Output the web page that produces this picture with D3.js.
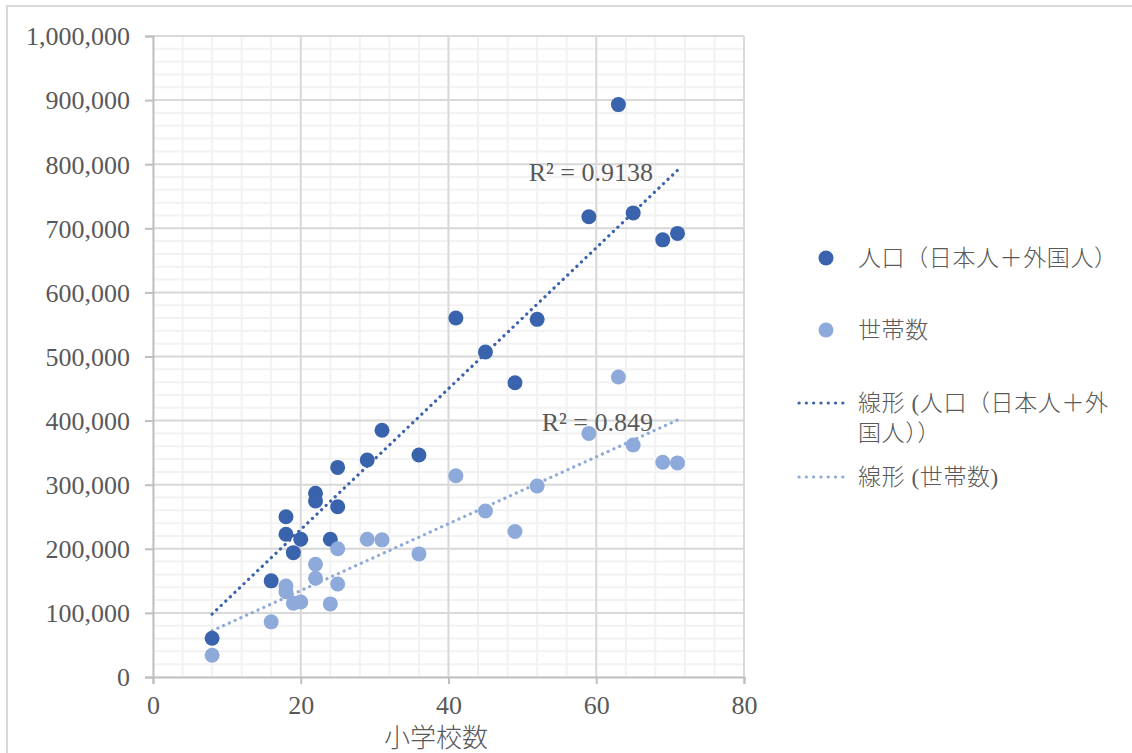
<!DOCTYPE html>
<html>
<head>
<meta charset="utf-8">
<script src="https://cdn.jsdelivr.net/npm/d3@7"></script>
<style>
  body { margin: 0; background: #fff; }
  text { fill: #595959; }
</style>
</head>
<body>
<div id="chart"></div>
<script>
// 小学校数 (x) per ward, and population / households (y)
const schools = [8, 16, 18, 18, 19, 20, 22, 22, 24, 25, 25, 29, 31, 36, 41, 45, 49, 52, 59, 63, 65, 69, 71]
const population = [60400, 150000, 250000, 222600, 194000, 215000, 286600, 274600, 214800, 327000, 265700,
    338500, 385000, 346300, 560000, 507000, 459000, 558000, 718000, 893000, 724000, 682000, 692000]
const households = [34000, 86000, 142000, 133000, 115000, 117000, 176000, 154000, 114000, 200000, 145000,
    215000, 214000, 192000, 314000, 259000, 227000, 298000, 380000, 468000, 362000, 335000, 334000]

const xTicks = [0, 20, 40, 60, 80]
const yTicks = [0, 100000, 200000, 300000, 400000, 500000, 600000, 700000, 800000, 900000, 1000000]

const seriesNames = ["人口（日本人＋外国人）", "世帯数"]
const trendNames = [["線形 (人口（日本人＋外", "国人））"], ["線形 (世帯数)"]]

const colors = ["#3a63ad", "#8eaadb"]
const serif = "'Liberation Serif', 'Noto Sans CJK JP', serif"

const width = 1132, height = 753

let svg = d3.select("#chart").append("svg")
    .attr("width", width)
    .attr("height", height)

// chart area frame (runs off right/bottom edge)
svg.append("rect")
    .attr("x", 7).attr("y", 6)
    .attr("width", width + 20).attr("height", height + 20)
    .attr("fill", "none")
    .attr("stroke", "#d9d9d9")
    .attr("stroke-width", 2)

let x = d3.scaleLinear().domain([0, 80]).range([153, 744])
let y = d3.scaleLinear().domain([0, 1000000]).range([677, 36])

let grid = svg.append("g")

// minor gridlines
grid.selectAll("line.mx")
    .data(d3.range(0, 81, 4))
    .join("line")
    .attr("x1", d => x(d)).attr("x2", d => x(d))
    .attr("y1", y(0)).attr("y2", y(1000000))
    .attr("stroke", "#f2f2f2").attr("stroke-width", 2)
grid.selectAll("line.my")
    .data(d3.range(0, 1000001, 20000))
    .join("line")
    .attr("x1", x(0)).attr("x2", x(80))
    .attr("y1", d => y(d)).attr("y2", d => y(d))
    .attr("stroke", "#f2f2f2").attr("stroke-width", 2)

// major gridlines
let major = svg.append("g")
major.selectAll("line.gx")
    .data(xTicks.slice(1))
    .join("line")
    .attr("x1", d => x(d)).attr("x2", d => x(d))
    .attr("y1", y(0)).attr("y2", y(1000000))
    .attr("stroke", "#d9d9d9").attr("stroke-width", 2)
major.selectAll("line.gy")
    .data(yTicks.slice(1))
    .join("line")
    .attr("x1", x(0)).attr("x2", x(80))
    .attr("y1", d => y(d)).attr("y2", d => y(d))
    .attr("stroke", "#d9d9d9").attr("stroke-width", 2)

// axes
let yAxis = svg.append("g")
    .attr("transform", `translate(${x(0)},0)`)
    .call(d3.axisLeft(y).tickValues(yTicks).tickSize(8).tickPadding(15)
        .tickFormat(d3.format(",")))
let xAxis = svg.append("g")
    .attr("transform", `translate(0,${y(0)})`)
    .call(d3.axisBottom(x).tickValues(xTicks).tickSize(7).tickPadding(12))

for (const ax of [xAxis, yAxis]) {
    ax.select(".domain").attr("stroke", "#bfbfbf").attr("stroke-width", 2)
    ax.selectAll(".tick line").attr("stroke", "#bfbfbf").attr("stroke-width", 2)
    ax.selectAll(".tick text")
        .attr("font-family", serif)
        .attr("font-size", 26)
        .attr("fill", "#595959")
}
yAxis.selectAll(".tick text").attr("dy", "0.34em")
xAxis.selectAll(".tick text").attr("dy", "0.68em")

svg.append("text")
    .attr("x", 436).attr("y", 747)
    .attr("text-anchor", "middle")
    .attr("font-family", serif)
    .attr("font-size", 26)
    .attr("font-weight", 300)
    .text("小学校数")

/**
 * Least squares fit, returns slope, intercept and r².
 */
function linear_fit(xs, ys) {
    const mx = d3.mean(xs), my = d3.mean(ys)
    let sxy = 0, sxx = 0, syy = 0
    for (let i = 0; i < xs.length; i++) {
        sxy += (xs[i] - mx) * (ys[i] - my)
        sxx += (xs[i] - mx) ** 2
        syy += (ys[i] - my) ** 2
    }
    const slope = sxy / sxx
    return {slope: slope, intercept: my - slope * mx, r2: sxy * sxy / (sxx * syy)}
}

const series = [population, households]
const fits = series.map(s => linear_fit(schools, s))
const r2Labels = ["R² = 0.9138", "R² = 0.849"]

// trend lines (under markers)
const xmin = d3.min(schools), xmax = d3.max(schools)
const line = d3.line().x(d => x(d[0])).y(d => y(d[1]))
fits.forEach((f, i) => {
    svg.append("path")
        .attr("d", line([[xmin, f.intercept + f.slope * xmin], [xmax, f.intercept + f.slope * xmax]]))
        .attr("stroke", colors[i])
        .attr("stroke-width", 3.2)
        .attr("stroke-linecap", "round")
        .attr("stroke-dasharray", "0.1 6.2")
        .attr("fill", "none")
})

// markers
series.forEach((s, i) => {
    svg.append("g")
        .selectAll("circle")
        .data(schools)
        .join("circle")
        .attr("cx", d => x(d))
        .attr("cy", (d, j) => y(s[j]))
        .attr("r", 7.5)
        .attr("fill", colors[i])
})

// R² labels, placed at the end of each trend line
fits.forEach((f, i) => {
    svg.append("text")
        .attr("x", 653)
        .attr("y", y(f.intercept + f.slope * xmax) + 2)
        .attr("text-anchor", "end")
        .attr("dominant-baseline", "central")
        .attr("font-family", serif)
        .attr("font-size", 26)
        .text(r2Labels[i])
})

// legend
let legend = svg.append("g")
const markerRows = [258, 330]
markerRows.forEach((ly, i) => {
    legend.append("circle")
        .attr("cx", 826).attr("cy", ly).attr("r", 7.5)
        .attr("fill", colors[i])
    legend.append("text")
        .attr("x", 858).attr("y", ly)
        .attr("dominant-baseline", "central")
        .attr("font-family", serif)
        .attr("font-size", 23)
        .attr("font-weight", 300)
        .attr("letter-spacing", 0.6)
        .text(seriesNames[i])
})
const lineRows = [403, 477]
lineRows.forEach((ly, i) => {
    legend.append("line")
        .attr("x1", 799).attr("x2", 850)
        .attr("y1", ly).attr("y2", ly)
        .attr("stroke", colors[i])
        .attr("stroke-width", 3.2)
        .attr("stroke-linecap", "round")
        .attr("stroke-dasharray", "0.1 7.2")
    let t = legend.append("text")
        .attr("x", 858).attr("y", ly)
        .attr("dominant-baseline", "central")
        .attr("font-family", serif)
        .attr("font-size", 23)
        .attr("font-weight", 300)
        .attr("letter-spacing", 0.6)
    trendNames[i].forEach((s, k) => {
        t.append("tspan")
            .attr("x", 858)
            .attr("dy", k == 0 ? 0 : 30)
            .text(s)
    })
})
</script>
</body>
</html>
